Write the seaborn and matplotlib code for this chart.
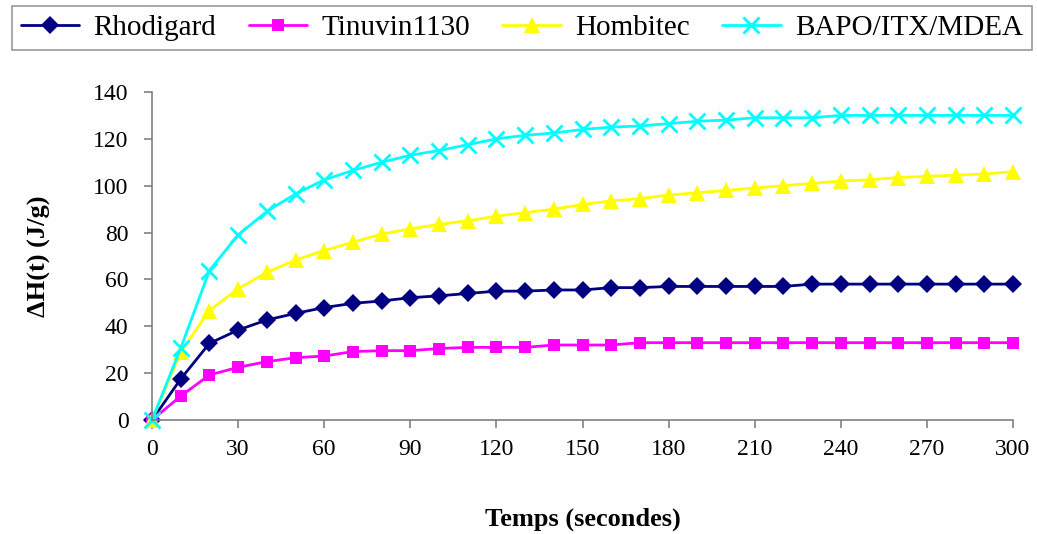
import numpy as np
import pandas as pd
import matplotlib
matplotlib.use('Agg')
import matplotlib.pyplot as plt
import seaborn as sns

# temps en secondes
temps = list(range(0, 301, 10))

rhodigard = [0, 17.5, 32.7, 38.4, 42.7, 45.5, 48, 49.8, 50.8, 52.2, 53, 54, 55, 55, 55.5, 55.5,
             56.5, 56.5, 57, 57, 57, 57, 57, 58, 58, 58, 58, 58, 58, 58, 58]
tinuvin = [0, 10.2, 19.2, 22.5, 24.9, 26.6, 27.3, 29.2, 29.6, 29.6, 30.5, 31, 31, 31, 32, 32,
           32, 33, 33, 33, 33, 33, 33, 33, 33, 33, 33, 33, 33, 33, 33]
hombitec = [0, 29, 46.7, 56, 63, 68.3, 72.3, 75.9, 79.3, 81.6, 83.5, 85, 87, 88.5, 90, 92,
            93.5, 94.5, 96, 97, 98, 99, 100, 101, 102, 102.5, 103.5, 104, 104.5, 105, 106]
bapo = [0, 30.6, 63.8, 79, 89, 96.5, 102.5, 106.5, 110, 113, 115, 117.5, 120, 121.5, 122.5, 124,
        125, 125.5, 126.5, 127.5, 128, 129, 129, 129, 130, 130, 130, 130, 130, 130, 130]

series = {'Rhodigard': rhodigard, 'Tinuvin1130': tinuvin, 'Hombitec': hombitec, 'BAPO/ITX/MDEA': bapo}
styles = {
    'Rhodigard': dict(color='#000080', marker='D', markersize=9, mew=0),
    'Tinuvin1130': dict(color='#FF00FF', marker='s', markersize=9, mew=0),
    'Hombitec': dict(color='#FFFF00', marker='^', markersize=11, mew=0),
    'BAPO/ITX/MDEA': dict(color='#00FFFF', marker='x', markersize=11, mew=2),
}

sns.set_style('white')
plt.rcParams['font.family'] = ['Liberation Serif', 'DejaVu Serif']
plt.rcParams['text.color'] = 'black'
plt.rcParams['axes.labelcolor'] = 'black'
plt.rcParams['xtick.color'] = 'black'
plt.rcParams['ytick.color'] = 'black'

fig = plt.figure(figsize=(10.37, 5.34), dpi=100)
ax = fig.add_axes([152 / 1037, 1 - 420 / 534, (1013 - 152) / 1037, (420 - 92) / 534])

for nom, vals in series.items():
    st = styles[nom]
    sns.lineplot(x=temps, y=vals, ax=ax, label=nom, color=st['color'], marker=st['marker'],
                 markersize=st['markersize'], markeredgewidth=st['mew'],
                 markeredgecolor=st['color'], linewidth=2, clip_on=False)

ax.set_xlim(0, 300)
ax.set_ylim(0, 140)
ax.set_xticks(range(0, 301, 30))
ax.set_yticks(range(0, 141, 20))
ax.tick_params(axis='both', labelsize=17, direction='out', length=6, width=1.2, color='#808080',
               labelcolor='black', bottom=True, left=True)
ax.tick_params(axis='x', pad=8)
ax.tick_params(axis='y', pad=11)
for s in ['top', 'right']:
    ax.spines[s].set_visible(False)
for s in ['left', 'bottom']:
    ax.spines[s].set_color('#808080')
    ax.spines[s].set_linewidth(1.2)

ax.set_xlabel('Temps (secondes)', fontsize=19, fontweight='bold', labelpad=34)
ax.set_ylabel('ΔH(t) (J/g)', fontsize=19, fontweight='bold', labelpad=30)

ax.legend_.remove()
handles, labels = ax.get_legend_handles_labels()
leg = fig.legend(handles, labels, loc='upper left',
                 bbox_to_anchor=(12 / 1037, 0, (1032 - 12) / 1037, 1 - 6 / 534),
                 bbox_transform=fig.transFigure, ncol=4, mode='expand', borderaxespad=0,
                 fontsize=21, frameon=True, fancybox=False, edgecolor='#808080',
                 handlelength=2.0, handletextpad=0.5, columnspacing=0.6, borderpad=0.3)
leg.get_frame().set_linewidth(1.2)

fig.savefig('out.png', dpi=100)
